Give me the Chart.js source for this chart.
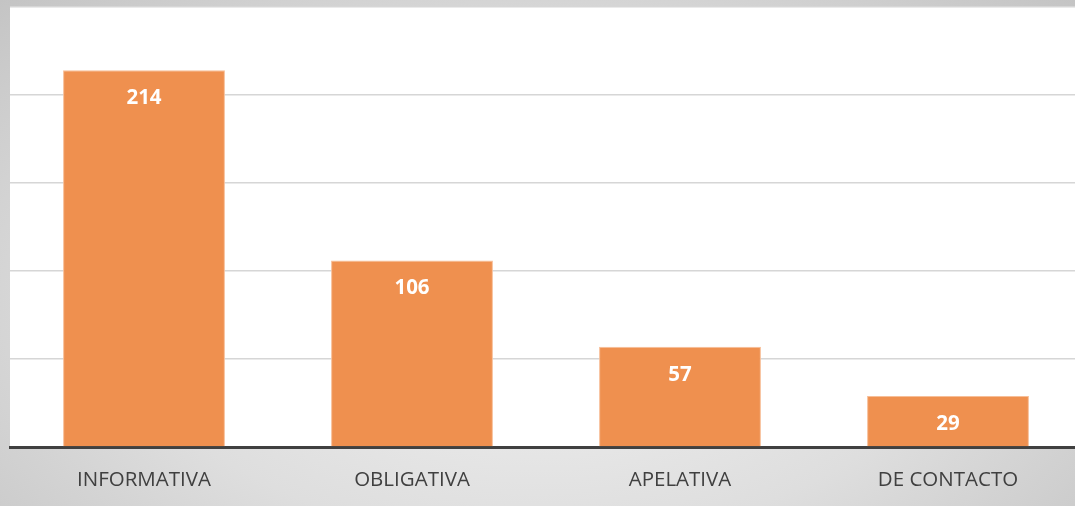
<!DOCTYPE html>
<html>
<head>
<meta charset="utf-8">
<script src="https://cdn.jsdelivr.net/npm/chart.js@4/dist/chart.umd.min.js"></script>
<style>
  html, body { margin: 0; padding: 0; width: 1075px; height: 506px; overflow: hidden; }
  body { background: radial-gradient(ellipse at 50% 60%, #f2f2f2 0%, #dedede 55%, #c4c4c4 100%); position: relative; }
  #wrap { position: absolute; left: 0; top: 0; width: 1082px; height: 506px; }
</style>
</head>
<body>
<div id="wrap"><canvas id="chart"></canvas></div>
<script>
'use strict';

var categories = ['INFORMATIVA', 'OBLIGATIVA', 'APELATIVA', 'DE CONTACTO'];
var values = [214, 106, 57, 29];

var whiteArea = {
    id: 'whiteArea',
    beforeDraw: function (chart) {
        var a = chart.chartArea, ctx = chart.ctx;
        ctx.save();
        ctx.fillStyle = '#ffffff';
        ctx.fillRect(a.left, a.top, a.right - a.left, a.bottom - a.top);
        ctx.restore();
    }
};

var barLabels = {
    id: 'barLabels',
    afterDatasetsDraw: function (chart) {
        var ctx = chart.ctx;
        var meta = chart.getDatasetMeta(0);
        ctx.save();
        ctx.fillStyle = '#ffffff';
        ctx.font = 'bold 20.5px "Open Sans"';
        ctx.textAlign = 'center';
        ctx.textBaseline = 'middle';
        meta.data.forEach(function (bar, i) {
            ctx.fillText(String(values[i]), bar.x, bar.y + 28);
        });
        ctx.restore();
    }
};

new Chart(document.getElementById('chart').getContext('2d'), {
    type: 'bar',
    data: {
        labels: categories,
        datasets: [{
            data: values,
            backgroundColor: '#EF904F',
            borderColor: '#F7BE97',
            borderWidth: 1,
            barPercentage: 0.604,
            categoryPercentage: 1
        }]
    },
    options: {
        responsive: true,
        maintainAspectRatio: false,
        animation: false,
        layout: { padding: { left: 10, top: 7, right: 0, bottom: 0 } },
        plugins: { legend: { display: false }, tooltip: { enabled: false } },
        scales: {
            x: {
                grid: { display: false },
                border: { display: true, color: '#404040', width: 3 },
                ticks: { color: '#404040', font: { family: '"Open Sans"', size: 20.5 }, padding: 13 },
                afterFit: function (axis) { axis.height = 59; }
            },
            y: {
                min: 0,
                max: 250,
                ticks: { display: false, stepSize: 50 },
                grid: { color: '#d6d6d6', lineWidth: 1.5, drawTicks: false },
                border: { display: false },
                afterFit: function (axis) { axis.width = 0; }
            }
        }
    },
    plugins: [whiteArea, barLabels]
});
</script>
</body>
</html>
